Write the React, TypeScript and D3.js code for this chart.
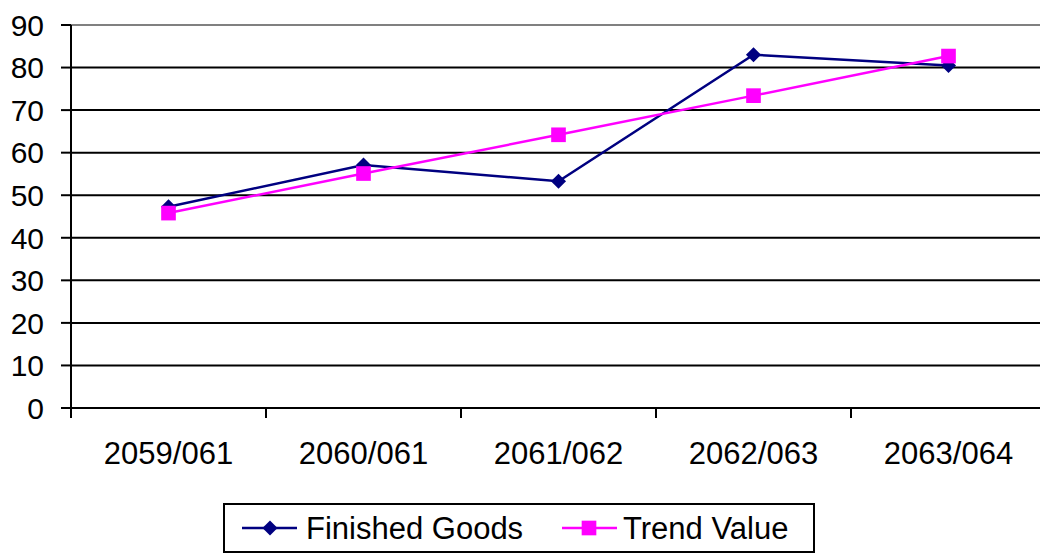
import React from 'react';
import * as d3 from 'd3';

const categories = ['2059/061', '2060/061', '2061/062', '2062/063', '2063/064'];
const finishedGoods = [47.3, 57.1, 53.3, 83.0, 80.5];
const trendValue = [45.8, 55.1, 64.2, 73.4, 82.7];
const yTicks = [0, 10, 20, 30, 40, 50, 60, 70, 80, 90];

const NAVY = '#000080';
const MAGENTA = '#FF00FF';

function App() {
    const width = 1040;
    const height = 554;
    const left = 71;
    const top = 25;
    const bottom = 408;

    const xScale = d3.scaleBand().domain(categories).range([left, 1046]).padding(0);
    const yScale = d3.scaleLinear().domain([0, 90]).range([bottom, top]);
    const cx = (c) => xScale(c) + xScale.bandwidth() / 2;

    const line = d3.line()
        .x((d, i) => cx(categories[i]))
        .y(d => yScale(d));

    const diamond = d3.symbol().type(d3.symbolDiamond2).size(145)();
    const square = d3.symbol().type(d3.symbolSquare).size(215)();
    const font = '"Liberation Sans", Arial, sans-serif';

    return (
        <svg width={width} height={height} style={{ position: 'absolute', left: 0, top: 0, background: '#fff' }}>
            {/* gridlines */}
            {yTicks.map(t => (
                <line key={t} x1={left} x2={width} y1={yScale(t)} y2={yScale(t)}
                    stroke={t === 90 ? '#808080' : '#000'} strokeWidth={2} />
            ))}
            {/* y axis */}
            <line x1={left} x2={left} y1={top} y2={bottom + 10} stroke="#000" strokeWidth={2} />
            {yTicks.map(t => (
                <g key={t} transform={`translate(0, ${yScale(t)})`}>
                    <line x1={left - 10} x2={left} stroke="#000" strokeWidth={2} />
                    <text x={44} dy="0.36em" textAnchor="end" fontFamily={font} fontSize={30} fill="#000">{t}</text>
                </g>
            ))}
            {/* x axis ticks and labels */}
            {categories.map(c => (
                <line key={c} x1={xScale(c) + xScale.bandwidth()} x2={xScale(c) + xScale.bandwidth()}
                    y1={bottom} y2={bottom + 10} stroke="#000" strokeWidth={2} />
            ))}
            {categories.map(c => (
                <text key={c} x={cx(c)} y={464} textAnchor="middle" fontFamily={font} fontSize={31} fill="#000">{c}</text>
            ))}
            {/* series */}
            <path d={line(finishedGoods)} fill="none" stroke={NAVY} strokeWidth={2.5} />
            {finishedGoods.map((v, i) => (
                <path key={i} d={diamond} transform={`translate(${cx(categories[i])}, ${yScale(v)})`} fill={NAVY} />
            ))}
            <path d={line(trendValue)} fill="none" stroke={MAGENTA} strokeWidth={2.5} />
            {trendValue.map((v, i) => (
                <path key={i} d={square} transform={`translate(${cx(categories[i])}, ${yScale(v)})`} fill={MAGENTA} />
            ))}
            {/* legend */}
            <rect x={224} y={504} width={590} height={48} fill="#fff" stroke="#000" strokeWidth={2} />
            <line x1={242} x2={297} y1={528} y2={528} stroke={NAVY} strokeWidth={2.5} />
            <path d={diamond} transform="translate(270, 528)" fill={NAVY} />
            <text x={306} y={539} fontFamily={font} fontSize={31} fill="#000">Finished Goods</text>
            <line x1={562} x2={617} y1={528} y2={528} stroke={MAGENTA} strokeWidth={2.5} />
            <path d={square} transform="translate(589, 528)" fill={MAGENTA} />
            <text x={623} y={539} fontFamily={font} fontSize={31} fill="#000">Trend Value</text>
        </svg>
    );
}

export default App;
